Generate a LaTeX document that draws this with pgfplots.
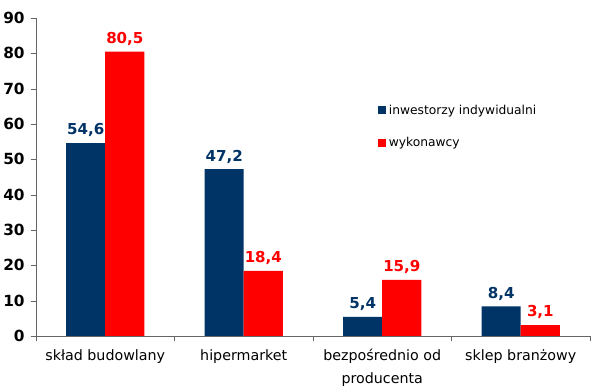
\documentclass[border=0pt]{standalone}
\usepackage{pgfplots}
\pgfplotsset{compat=1.18}
\usepackage{fontspec}
\setmainfont{DejaVu Sans}
\definecolor{cblue}{HTML}{003366}
\definecolor{cred}{HTML}{FF0000}
\begin{document}
\begin{tikzpicture}[x=0.75pt,y=0.75pt]
\path[use as bounding box] (-36,-55) rectangle (564,336);
\begin{axis}[
  at={(0,0)}, anchor=south west,
  scale only axis, width=415.5pt, height=238.5pt,
  xmin=-0.5, xmax=3.5, ymin=0, ymax=90,
  ytick={0,10,...,90},
  xtick={-0.5,0.5,1.5,2.5,3.5},
  xticklabels={},
  extra x ticks={0,1,2,3},
  extra x tick labels={sk\l{}ad budowlany, hipermarket, {bezpo\'srednio od\\producenta}, sklep bran\.zowy},
  extra x tick style={major tick length=0pt,
    xticklabel style={font=\fontsize{10.7}{16.8}\selectfont, align=center, yshift=-6.5pt}},
  axis x line*=bottom, axis y line*=left,
  axis line style={gray!80!black, -},
  tick style={gray!80!black},
  tick align=outside,
  major tick length=4pt,
  /pgf/number format/assume math mode=true,
  yticklabel={\bfseries\pgfmathprintnumber{\tick}},
  yticklabel style={font=\fontsize{11.5}{13}\selectfont\bfseries, xshift=-1pt},
  ybar=0pt, bar width=0.283,
  nodes near coords,
  nodes near coords style={font=\fontsize{11.3}{13}\selectfont\bfseries,
    /pgf/number format/fixed, /pgf/number format/fixed zerofill,
    /pgf/number format/precision=1, /pgf/number format/use comma,
    /pgf/number format/assume math mode=true, yshift=1pt},
  legend style={at={(0.61,0.745)}, anchor=north west, draw=none, fill=none,
    font=\fontsize{9.2}{11}\selectfont, row sep=12pt, cells={anchor=west}},
  legend image code/.code={\fill[#1] (0pt,-3pt) rectangle (6pt,3pt);},
  clip=false,
]
\addplot[fill=cblue, draw=none, nodes near coords style={text=cblue}] coordinates {(0,54.6) (1,47.2) (2,5.4) (3,8.4)};
\addplot[fill=cred, draw=none, nodes near coords style={text=cred}] coordinates {(0,80.5) (1,18.4) (2,15.9) (3,3.1)};
\legend{inwestorzy indywidualni, wykonawcy}
\end{axis}
\end{tikzpicture}
\end{document}
